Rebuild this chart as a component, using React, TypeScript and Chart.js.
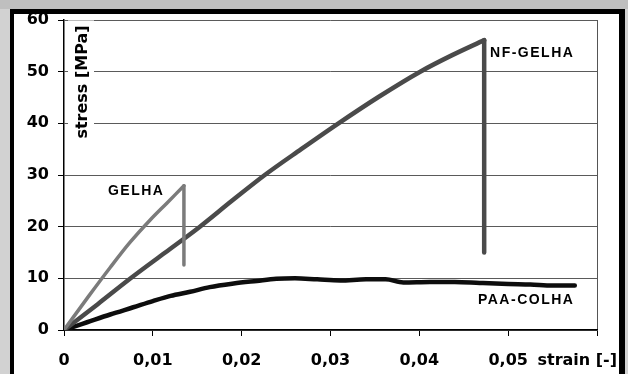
import React, { useEffect, useRef } from 'react';
import { Chart, registerables } from 'chart.js';

Chart.register(...registerables);

// ---- data (strain [-], stress [MPa]) ----
// last point of GELHA and NF-GELHA is the end of the vertical drop at failure
const gelhaStrain = [0, 0.0028, 0.0052, 0.0074, 0.0097, 0.0116, 0.0135, 0.0135];
const gelhaStress = [0, 6.6, 12.1, 16.9, 21.3, 24.6, 27.9, 12.6];

const nfStrain = [0, 0.0038, 0.0075, 0.0114, 0.0153, 0.0189, 0.0226, 0.0267, 0.0309, 0.0354, 0.0401, 0.0437, 0.0473, 0.0473];
const nfStress = [0, 5, 10, 15, 20, 25, 30, 35, 40, 45.1, 50, 53.2, 56.1, 15];

const paaStrain = [0, 0.0026, 0.0052, 0.0078, 0.01, 0.012, 0.0142, 0.0164, 0.0191, 0.0217, 0.0239, 0.026, 0.0285, 0.0311, 0.034, 0.0362, 0.0382, 0.0412, 0.044, 0.0468, 0.05, 0.0525, 0.055, 0.0575];
const paaStress = [0, 1.5, 3.0, 4.4, 5.6, 6.6, 7.4, 8.3, 9.0, 9.5, 9.9, 10.0, 9.8, 9.6, 9.8, 9.8, 9.2, 9.3, 9.3, 9.1, 8.9, 8.8, 8.6, 8.6];

const seriesNames = ['GELHA', 'NF-GELHA', 'PAA-COLHA'];
const labelStrain = [0.00495, 0.04796, 0.0466];
const labelStress = [26.9, 53.6, 5.7];

const xMin = 0;
const xMax = 0.06;
const xStep = 0.01;
const yMin = 0;
const yMax = 60;
const yStep = 10;

const xAxisTitle = 'strain [-]';
const xAxisTitleStrain = 0.0533;
const yAxisTitle = 'stress [MPa]';
const yAxisTitleStrain = 0.00214;
const yAxisTitleStress = 48;

const TICK_FONT = { family: '"DejaVu Sans", Verdana, sans-serif', size: 16, weight: 'bold' as const };
const X_TICK_LEN = 6;
const X_TICK_PAD = 15;

const toPoints = (xs: number[], ys: number[]) => xs.map((x, i) => ({ x, y: ys[i] }));
const rise = (xs: number[], ys: number[]) => toPoints(xs.slice(0, -1), ys.slice(0, -1));
const drop = (xs: number[], ys: number[]) => toPoints(xs.slice(-2), ys.slice(-2));

const annotPlugin = {
  id: 'annot',
  afterDraw(chart: any) {
    const ctx = chart.ctx as CanvasRenderingContext2D;
    const xs = chart.scales.x;
    const ys = chart.scales.y;
    ctx.save();

    ctx.font = 'bold 14px "Liberation Sans", Arial, sans-serif';
    (ctx as any).letterSpacing = '1.5px';
    ctx.fillStyle = '#000';
    ctx.textAlign = 'left';
    ctx.textBaseline = 'middle';
    seriesNames.forEach((t, i) => {
      ctx.fillText(t, xs.getPixelForValue(labelStrain[i]), ys.getPixelForValue(labelStress[i]));
    });
    (ctx as any).letterSpacing = '0px';

    ctx.font = 'bold 16px "DejaVu Sans", Verdana, sans-serif';
    const xy = xs.top + X_TICK_LEN + X_TICK_PAD + (16 * 1.2) / 2;
    ctx.fillText(xAxisTitle, xs.getPixelForValue(xAxisTitleStrain), xy);

    const cx = xs.getPixelForValue(yAxisTitleStrain);
    const cy = ys.getPixelForValue(yAxisTitleStress);
    const w = ctx.measureText(yAxisTitle).width;
    ctx.fillStyle = '#fff';
    ctx.fillRect(cx - 15, cy - w / 2 - 5, 26, w + 10);
    ctx.translate(cx, cy);
    ctx.rotate(-Math.PI / 2);
    ctx.fillStyle = '#000';
    ctx.textAlign = 'center';
    ctx.fillText(yAxisTitle, 0, 0);
    ctx.restore();
  },
};

const GELHA_COLOR = '#7b7b7b';
const NF_COLOR = '#4a4a4a';
const PAA_COLOR = '#0d0d0d';

const lineDs = (label: string, data: any[], color: string, width: number, smooth: boolean) => ({
  label,
  data,
  showLine: true,
  borderColor: color,
  borderWidth: width,
  pointRadius: 0,
  borderJoinStyle: 'round',
  borderCapStyle: 'round',
  cubicInterpolationMode: smooth ? 'monotone' : 'default',
  tension: 0,
  fill: false,
});

export default function App() {
  const ref = useRef<HTMLCanvasElement>(null);

  useEffect(() => {
    if (!ref.current) return;
    const chart = new Chart(ref.current, {
      type: 'scatter',
      data: {
        datasets: [
          lineDs(seriesNames[0], drop(gelhaStrain, gelhaStress), GELHA_COLOR, 3.5, false),
          lineDs(seriesNames[0], rise(gelhaStrain, gelhaStress), GELHA_COLOR, 3.5, true),
          lineDs(seriesNames[1], drop(nfStrain, nfStress), NF_COLOR, 4.5, false),
          lineDs(seriesNames[1], rise(nfStrain, nfStress), NF_COLOR, 4.5, true),
          lineDs(seriesNames[2], toPoints(paaStrain, paaStress), PAA_COLOR, 4.5, true),
        ],
      } as any,
      options: {
        responsive: false,
        animation: false,
        devicePixelRatio: 1,
        layout: { padding: { top: 20, right: 31, left: 0, bottom: 0 } },
        plugins: { legend: { display: false }, tooltip: { enabled: false } },
        scales: {
          x: {
            type: 'linear',
            min: xMin,
            max: xMax,
            afterFit: (s: any) => {
              s.height = 44;
            },
            ticks: {
              stepSize: xStep,
              color: '#000',
              font: TICK_FONT,
              padding: X_TICK_PAD,
              maxRotation: 0,
              autoSkip: false,
              callback: (v: any) => {
                const n = Number(v);
                if (Math.abs(n - xMax) < 1e-9) return '';
                if (n === 0) return '0';
                return n.toFixed(2).replace('.', ',');
              },
            },
            grid: {
              color: (c: any) => (c.tick && Math.abs(c.tick.value - xMax) < 1e-9 ? '#555' : 'rgba(0,0,0,0)'),
              tickColor: '#000',
              tickLength: X_TICK_LEN,
              lineWidth: 1,
            },
            border: { color: '#000', width: 1.5 },
          },
          y: {
            type: 'linear',
            min: yMin,
            max: yMax,
            afterFit: (s: any) => {
              s.width = 64;
            },
            ticks: {
              stepSize: yStep,
              color: '#000',
              font: TICK_FONT,
              padding: 9,
            },
            grid: {
              color: '#5a5a5a',
              tickColor: '#000',
              tickLength: 6,
              lineWidth: 1,
            },
            border: { color: '#000', width: 1.5 },
          },
        },
      } as any,
      plugins: [annotPlugin],
    });
    return () => chart.destroy();
  }, []);

  return (
    <div
      style={{
        position: 'fixed',
        left: 0,
        top: 0,
        width: 628,
        height: 374,
        overflow: 'hidden',
        background: '#d2d2d2',
      }}
    >
      <div style={{ position: 'absolute', left: 0, top: 0, width: 628, height: 9, background: '#bfbfbf' }} />
      <div
        style={{
          position: 'absolute',
          left: 10,
          top: 9,
          width: 615,
          height: 400,
          boxSizing: 'border-box',
          borderTop: '5px solid #000',
          borderLeft: '4px solid #000',
          borderRight: '6px solid #000',
          background: '#fff',
        }}
      />
      <canvas
        ref={ref}
        width={628}
        height={374}
        style={{ position: 'absolute', left: 0, top: 0, width: 628, height: 374 }}
      />
    </div>
  );
}
